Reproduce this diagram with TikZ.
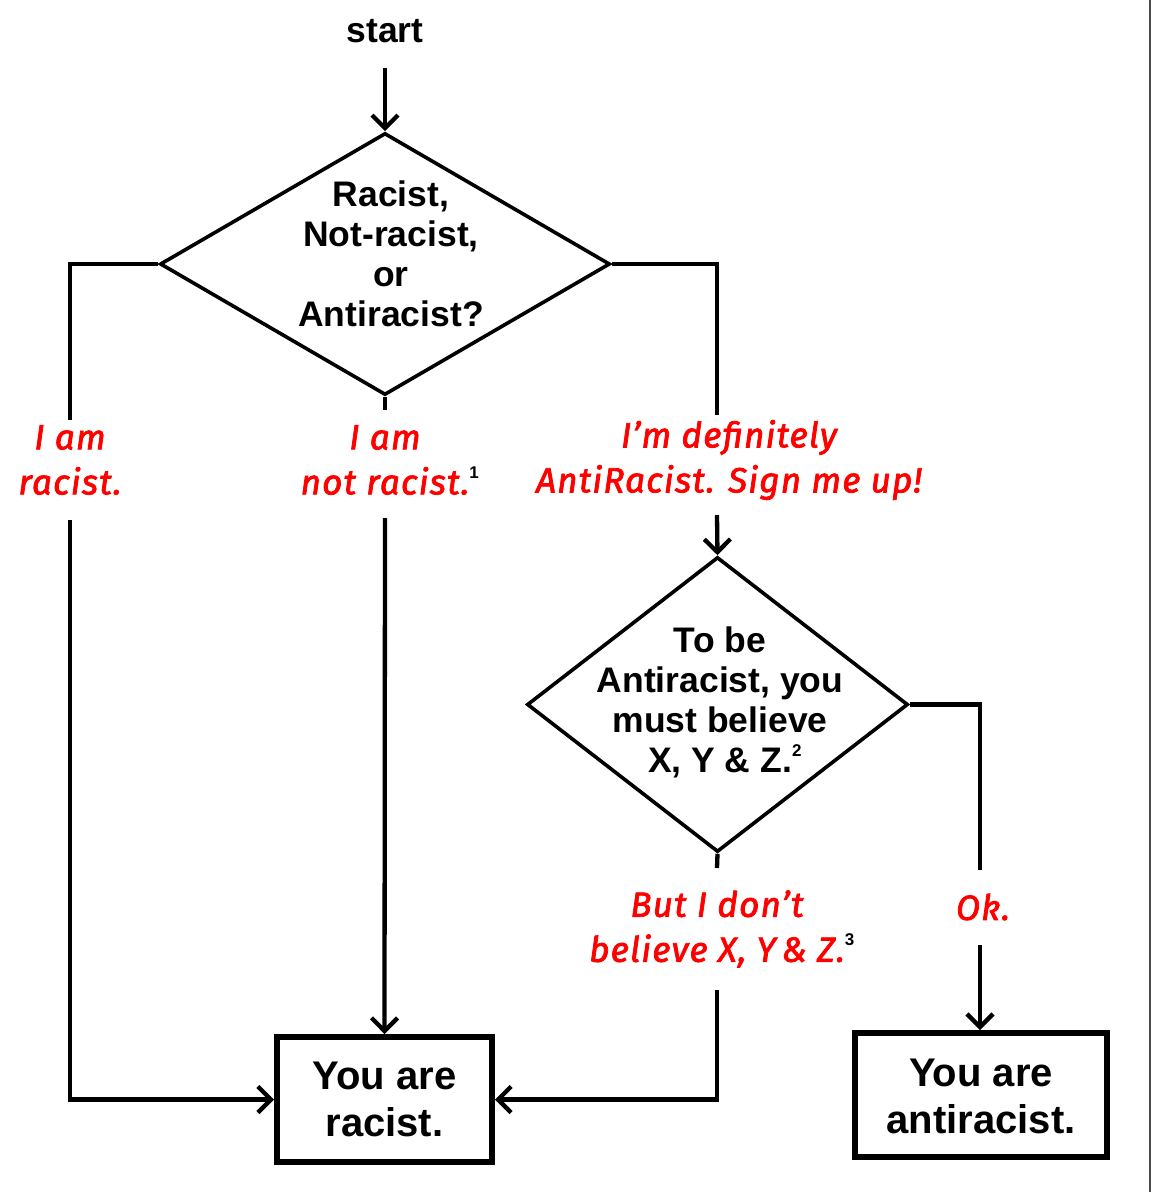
\documentclass[tikz,border=0pt]{standalone}
\usepackage{fontspec}
\setmainfont{Liberation Sans}
\newfontfamily\handfont[FakeBold=2.2, LetterSpace=3.5]{Fira Sans}
\usetikzlibrary{arrows.meta,shapes.geometric}
\definecolor{handred}{RGB}{255,0,0}
\begin{document}
\begin{tikzpicture}[x=1pt,y=-1pt,
  conn/.style={line width=4.3pt, line join=miter},
  arr/.style={conn,-{Straight Barb[length=13pt,width=26pt]}},
  txt/.style={font=\fontsize{35.5}{40}\selectfont\bfseries, align=center, inner sep=0pt},
  boxtxt/.style={font=\fontsize{40}{47}\selectfont\bfseries, align=center},
  hand/.style={text=handred, font=\handfont\itshape\fontsize{35}{45}\selectfont, align=center, inner sep=0pt},
  dia/.style={diamond, draw, line width=3.6pt, inner sep=0pt},
  endbox/.style={rectangle, draw, line width=6pt, inner sep=0pt}]
\useasboundingbox (0,0) rectangle (1152,1192);
\newcommand{\supnum}[1]{\rlap{\raisebox{16pt}{\color{black}\normalfont\bfseries\fontsize{17}{17}\selectfont #1}}}

% right frame edge
\draw[gray!60!black, line width=1.5pt] (1150,0) -- (1150,1192);

% nodes
\node[txt] (start) at (385,31) {start};
\node[dia, minimum width=450pt, minimum height=262pt] (d1) at (385,264) {};
\node[txt] (t1) at (391,254) {Racist,\\Not-racist,\\or\\Antiracist?};
\node[dia, minimum width=381pt, minimum height=295pt] (d2) at (717.5,704.5) {};
\node[txt] (t2) at (720,702) {To be\\Antiracist, you\\must believe\\X, Y \& Z.\supnum{2}};
\node[endbox, minimum width=215pt, minimum height=125pt] (b1) at (384.5,1099.5) {};
\node[boxtxt] (bt1) at (384.5,1099) {You are\\racist.};
\node[endbox, minimum width=252pt, minimum height=124pt] (b2) at (981,1095) {};
\node[boxtxt] (bt2) at (981,1096) {You are\\antiracist.};

% labels
\node[hand] (l1) at (70,460) {I am\\racist.};
\node[hand] (l2) at (385,460) {I am\\not racist.\supnum{1}};
\node[hand] (l3) at (729,460) {I’m definitely\\AntiRacist. Sign me up!};
\node[hand] (l4) at (717,929) {But I don’t\\believe X, Y\,\& Z.\supnum{3}};
\node[hand] (l5) at (983,907) {Ok.};

% coordinates
\coordinate (st) at (385,68);
\coordinate (a1) at (70,420);
\coordinate (a2) at (70,520);
\coordinate (m1) at (385,410);
\coordinate (m2) at (385,518);
\coordinate (r1) at (717,415);
\coordinate (r2) at (717,515);
\coordinate (s1) at (980,870);
\coordinate (s2) at (980,945);
\coordinate (u1) at (717,868);
\coordinate (u2) at (717,990);

% connectors
\draw[arr] (st) -- (d1.north);
\draw[conn] (d1.west) -| (a1);
\draw[arr] (a2) |- (b1.west);
\draw[conn] (d1.south) -- (m1);
\draw[arr] (m2) -- (b1.north);
\draw[conn] (d1.east) -| (r1);
\draw[arr] (r2) -- (d2.north);
\draw[conn] (d2.east) -| (s1);
\draw[arr] (s2) -- (s2 |- b2.north);
\draw[conn] (d2.south) -- (u1);
\draw[arr] (u2) |- (b1.east);
\end{tikzpicture}
\end{document}
